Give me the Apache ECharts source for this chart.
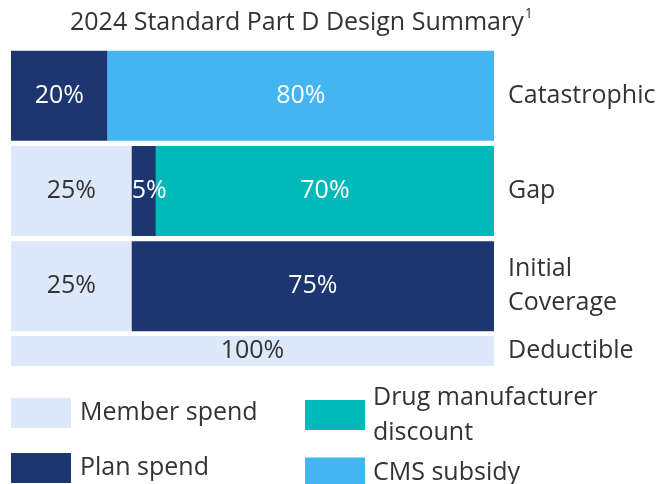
<!DOCTYPE html>
<html>
<head>
<meta charset="utf-8">
<title>2024 Standard Part D Design Summary</title>
<script src="https://cdn.jsdelivr.net/npm/echarts@6/dist/echarts.min.js"></script>
<style>
  html, body { margin: 0; padding: 0; background: #fff; }
  #chart { width: 664px; height: 484px; }
</style>
</head>
<body>
<div id="chart"></div>
<script>
// Benefit phases (top to bottom) and each payer's share, in percent
const phases = ['Catastrophic', 'Gap', 'Initial Coverage'];
const memberSpend = [null, 25, 25];
const planSpend = [20, 5, 75];
const drugDiscount = [null, 70, null];
const cmsSubsidy = [80, null, null];

// The deductible phase is drawn as a thinner bar below the others
const deductiblePhase = ['Deductible'];
const deductibleMember = [100];

const seriesNames = ['Member spend', 'Plan spend', 'Drug manufacturer discount', 'CMS subsidy'];

const COLORS = {
  member: '#DDE8FB',
  plan: '#1B3670',
  drug: '#00B9B8',
  cms: '#43B6F2'
};
const TEXT = '#333333';
const FONT = '"Open Sans", "Noto Sans", sans-serif';

const chart = echarts.init(document.getElementById('chart'), null, { renderer: 'canvas' });

function barLabel(color) {
  return {
    show: true,
    position: 'inside',
    formatter: '{c}%',
    color: color,
    fontFamily: FONT,
    fontSize: 25
  };
}

// The 5% plan share in the gap phase is too narrow for its label,
// so that one label starts at the left edge of its segment.
const planData = planSpend.map((v, i) => (
  phases[i] === 'Gap'
    ? { value: v, label: { position: 'insideLeft', distance: 0 } }
    : v
));

const option = {
  animation: false,
  title: {
    text: '{t|2024 Standard Part D Design Summary}{s|1}',
    left: 70,
    top: 7,
    padding: 0,
    textStyle: {
      fontWeight: 'normal',
      rich: {
        t: { fontFamily: FONT, fontSize: 25, fontWeight: 'normal', color: TEXT, lineHeight: 32 },
        s: { fontFamily: FONT, fontSize: 14, fontWeight: 'normal', color: TEXT, lineHeight: 32, verticalAlign: 'top', padding: [0, 0, 12, 1] }
      }
    }
  },
  legend: [
    {
      data: [seriesNames[0], seriesNames[1]],
      orient: 'vertical',
      left: 11,
      top: 398,
      itemWidth: 60,
      itemHeight: 30,
      itemGap: 25,
      icon: 'rect',
      selectedMode: false,
      padding: 0,
      textStyle: { fontFamily: FONT, fontSize: 25, color: TEXT, padding: [0, 0, 0, 4] }
    },
    {
      data: [seriesNames[2], seriesNames[3]],
      orient: 'vertical',
      left: 305,
      top: 380,
      itemWidth: 60,
      itemHeight: 30,
      itemGap: 5,
      icon: 'rect',
      selectedMode: false,
      padding: 0,
      formatter: name => (name === 'Drug manufacturer discount' ? 'Drug manufacturer\ndiscount' : name),
      textStyle: { fontFamily: FONT, fontSize: 25, color: TEXT, lineHeight: 35, padding: [0, 0, 0, 3] }
    }
  ],
  grid: [
    { left: 11, right: 170, top: 48, height: 286 },
    { left: 11, right: 170, top: 336, height: 30 }
  ],
  xAxis: [
    { type: 'value', gridIndex: 0, min: 0, max: 100, show: false },
    { type: 'value', gridIndex: 1, min: 0, max: 100, show: false }
  ],
  yAxis: [
    {
      type: 'category',
      gridIndex: 0,
      data: phases,
      inverse: true,
      position: 'right',
      axisLine: { show: false },
      axisTick: { show: false },
      axisLabel: {
        margin: 14,
        fontFamily: FONT,
        fontSize: 25,
        color: TEXT,
        lineHeight: 34,
        formatter: v => v.replace(' ', '\n')
      }
    },
    {
      type: 'category',
      gridIndex: 1,
      data: deductiblePhase,
      position: 'right',
      axisLine: { show: false },
      axisTick: { show: false },
      axisLabel: {
        margin: 14,
        fontFamily: FONT,
        fontSize: 25,
        color: TEXT
      }
    }
  ],
  series: [
    {
      name: seriesNames[0], type: 'bar', stack: 'phase', xAxisIndex: 0, yAxisIndex: 0,
      barWidth: 90, itemStyle: { color: COLORS.member }, label: barLabel(TEXT),
      data: memberSpend
    },
    {
      name: seriesNames[1], type: 'bar', stack: 'phase', xAxisIndex: 0, yAxisIndex: 0,
      barWidth: 90, itemStyle: { color: COLORS.plan }, label: barLabel('#ffffff'),
      data: planData
    },
    {
      name: seriesNames[2], type: 'bar', stack: 'phase', xAxisIndex: 0, yAxisIndex: 0,
      barWidth: 90, itemStyle: { color: COLORS.drug }, label: barLabel('#ffffff'),
      data: drugDiscount
    },
    {
      name: seriesNames[3], type: 'bar', stack: 'phase', xAxisIndex: 0, yAxisIndex: 0,
      barWidth: 90, itemStyle: { color: COLORS.cms }, label: barLabel('#ffffff'),
      data: cmsSubsidy
    },
    {
      name: seriesNames[0], type: 'bar', stack: 'deductible', xAxisIndex: 1, yAxisIndex: 1,
      barWidth: 30, itemStyle: { color: COLORS.member }, label: barLabel(TEXT),
      data: deductibleMember
    }
  ]
};

chart.setOption(option);
</script>
</body>
</html>
